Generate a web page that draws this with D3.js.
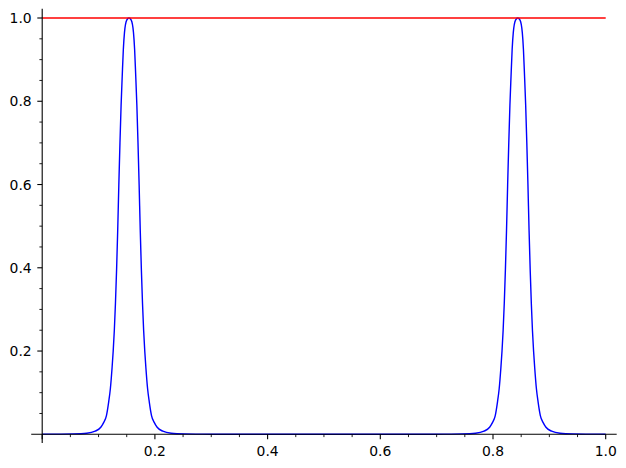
<!DOCTYPE html>
<html>
<head>
<meta charset="utf-8">
<script src="https://cdn.jsdelivr.net/npm/d3@7"></script>
<style>
  html, body { margin: 0; padding: 0; background: #fff; }
  svg { display: block; }
</style>
</head>
<body>
<svg id="chart" width="626" height="468"></svg>
<script>
// ---- data ----
const curveX = [
  0.000, 0.024, 0.054, 0.079, 0.094, 0.104, 0.109, 0.114, 0.118, 0.121, 0.124, 0.126,
  0.128, 0.130, 0.132, 0.134, 0.136, 0.138, 0.140, 0.142, 0.144, 0.146, 0.150, 0.154,
  0.158, 0.162, 0.164, 0.166, 0.168, 0.170, 0.172, 0.174, 0.176, 0.178, 0.180, 0.182,
  0.184, 0.187, 0.190, 0.194, 0.199, 0.204, 0.214, 0.229, 0.254, 0.284, 0.324,
  0.380, 0.440, 0.500, 0.560, 0.620,
  0.674, 0.714, 0.744, 0.769, 0.784, 0.794, 0.799, 0.804, 0.808, 0.811, 0.814, 0.816,
  0.818, 0.820, 0.822, 0.824, 0.826, 0.828, 0.830, 0.832, 0.834, 0.836, 0.840, 0.844,
  0.848, 0.852, 0.854, 0.856, 0.858, 0.860, 0.862, 0.864, 0.866, 0.868, 0.870, 0.872,
  0.874, 0.877, 0.880, 0.884, 0.889, 0.894, 0.904, 0.919, 0.944, 0.974, 1.000
];
const curveY = [
  0.0003, 0.0004, 0.0009, 0.0025, 0.0075, 0.017, 0.028, 0.045, 0.078, 0.110, 0.160, 0.200,
  0.250, 0.315, 0.395, 0.490, 0.600, 0.700, 0.790, 0.860, 0.925, 0.965, 0.995, 1.000,
  0.995, 0.965, 0.925, 0.860, 0.790, 0.700, 0.600, 0.490, 0.395, 0.315, 0.250, 0.200,
  0.160, 0.110, 0.078, 0.045, 0.028, 0.017, 0.0075, 0.0025, 0.0009, 0.0004, 0.0002,
  0.0002, 0.0003, 0.0001, 0.0003, 0.0002,
  0.0002, 0.0004, 0.0009, 0.0025, 0.0075, 0.017, 0.028, 0.045, 0.078, 0.110, 0.160, 0.200,
  0.250, 0.315, 0.395, 0.490, 0.600, 0.700, 0.790, 0.860, 0.925, 0.965, 0.995, 1.000,
  0.995, 0.965, 0.925, 0.860, 0.790, 0.700, 0.600, 0.490, 0.395, 0.315, 0.250, 0.200,
  0.160, 0.110, 0.078, 0.045, 0.028, 0.017, 0.0075, 0.0025, 0.0009, 0.0004, 0.0003
];
const refLineX = [0, 1];
const refLineY = [1, 1];

const xMajorTicks = [0, 0.2, 0.4, 0.6, 0.8, 1.0];
const xTickLabels = ["", "0.2", "0.4", "0.6", "0.8", "1.0"];
const yMajorTicks = [0.2, 0.4, 0.6, 0.8, 1.0];
const yTickLabels = ["0.2", "0.4", "0.6", "0.8", "1.0"];
const xMinorTicks = [0.05,0.1,0.15,0.25,0.3,0.35,0.45,0.5,0.55,0.65,0.7,0.75,0.85,0.9,0.95];
const yMinorTicks = [0.05,0.1,0.15,0.25,0.3,0.35,0.45,0.5,0.55,0.65,0.7,0.75,0.85,0.9,0.95];

// ---- drawing ----
const svg = d3.select("#chart");
const x = d3.scaleLinear().domain([0, 1]).range([42.2, 605.7]);
const y = d3.scaleLinear().domain([0, 1]).range([434.3, 18]);

const axisColor = "#000";
const axisW = 1.1;
const majorLen = 4.9, minorLen = 2.8;
const font = "'DejaVu Sans', sans-serif";
const fontSize = 13.9;

// curve
const curveData = curveX.map((d, i) => [d, curveY[i]]);
svg.append("path")
  .datum(curveData)
  .attr("fill", "none")
  .attr("stroke", "#0000ff")
  .attr("stroke-width", 1.4)
  .attr("d", d3.line().x(d => x(d[0])).y(d => y(d[1])).curve(d3.curveMonotoneX));

// red reference line
svg.append("path")
  .datum(refLineX.map((d, i) => [d, refLineY[i]]))
  .attr("fill", "none")
  .attr("stroke", "#ff0000")
  .attr("stroke-width", 1.4)
  .attr("d", d3.line().x(d => x(d[0])).y(d => y(d[1])));

// axis spines (through origin, extended by margins)
svg.append("line")
  .attr("x1", x(-0.0195)).attr("x2", x(1.0195))
  .attr("y1", y(0)).attr("y2", y(0))
  .attr("stroke", axisColor).attr("stroke-width", axisW);
svg.append("line")
  .attr("x1", x(0)).attr("x2", x(0))
  .attr("y1", y(-0.021)).attr("y2", y(1.022))
  .attr("stroke", axisColor).attr("stroke-width", axisW);

// x ticks
svg.append("g").selectAll("line").data(xMajorTicks).join("line")
  .attr("x1", d => x(d)).attr("x2", d => x(d))
  .attr("y1", y(0)).attr("y2", y(0) + majorLen)
  .attr("stroke", axisColor).attr("stroke-width", axisW);
svg.append("g").selectAll("line").data(xMinorTicks).join("line")
  .attr("x1", d => x(d)).attr("x2", d => x(d))
  .attr("y1", y(0)).attr("y2", y(0) + minorLen)
  .attr("stroke", axisColor).attr("stroke-width", axisW * 0.8);
svg.append("g").selectAll("text").data(xMajorTicks).join("text")
  .attr("x", d => x(d)).attr("y", y(0) + 21.8)
  .attr("text-anchor", "middle")
  .attr("font-family", font).attr("font-size", fontSize)
  .attr("fill", "#000")
  .text((d, i) => xTickLabels[i]);

// y ticks
svg.append("g").selectAll("line").data(yMajorTicks).join("line")
  .attr("x1", x(0)).attr("x2", x(0) - majorLen)
  .attr("y1", d => y(d)).attr("y2", d => y(d))
  .attr("stroke", axisColor).attr("stroke-width", axisW);
svg.append("g").selectAll("line").data(yMinorTicks).join("line")
  .attr("x1", x(0)).attr("x2", x(0) - minorLen)
  .attr("y1", d => y(d)).attr("y2", d => y(d))
  .attr("stroke", axisColor).attr("stroke-width", axisW * 0.8);
svg.append("g").selectAll("text").data(yMajorTicks).join("text")
  .attr("x", x(0) - 10.5).attr("y", d => y(d) + 5.1)
  .attr("text-anchor", "end")
  .attr("font-family", font).attr("font-size", fontSize)
  .attr("fill", "#000")
  .text((d, i) => yTickLabels[i]);
</script>
</body>
</html>
